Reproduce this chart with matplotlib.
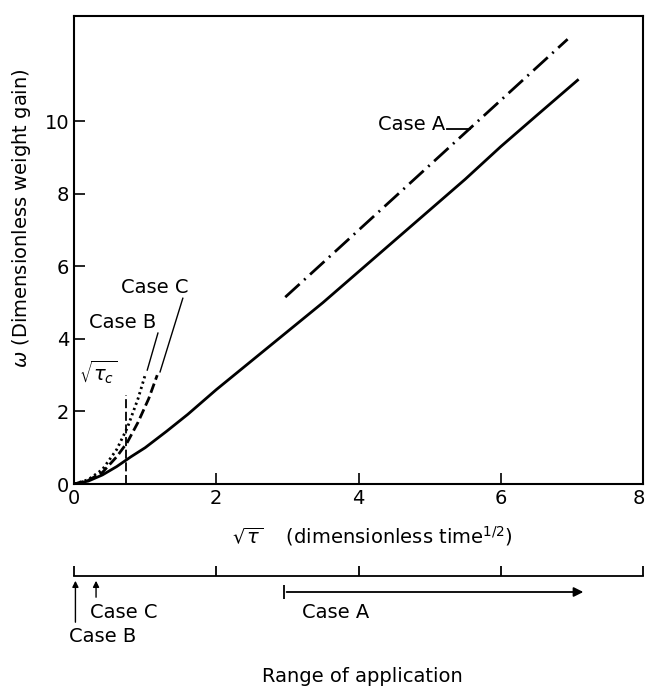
import matplotlib.pyplot as plt
import matplotlib.transforms as mtransforms

# exact solution (solid)
x_exact = [0, 0.2, 0.4, 0.6, 0.8, 1.0, 1.3, 1.6, 2.0, 2.5, 3.0, 3.5, 4.0, 4.5, 5.0, 5.5, 6.0, 6.5, 7.08]
y_exact = [0, 0.08, 0.25, 0.48, 0.75, 1.0, 1.45, 1.92, 2.6, 3.4, 4.2, 5.0, 5.85, 6.7, 7.55, 8.4, 9.3, 10.15, 11.13]

# Case A approximation (dash-dot)
x_case_a = [2.97, 6.94]
y_case_a = [5.15, 12.26]

# Case B (dotted) and Case C (dashed) short-time approximations
x_case_b = [0, 0.2, 0.4, 0.6, 0.75, 0.9, 1.0]
y_case_b = [0, 0.12, 0.4, 0.95, 1.55, 2.35, 3.0]
x_case_c = [0, 0.2, 0.4, 0.6, 0.75, 0.9, 1.05, 1.17]
y_case_c = [0, 0.1, 0.32, 0.75, 1.15, 1.7, 2.35, 3.0]

sqrt_tau_c = 0.73
sqrt_tau_c_top = 2.45

# range of application (lower scale)
range_ticks = [0, 2, 4, 6, 8]
case_a_from, case_a_to = 2.95, 7.2
case_b_at = 0.02
case_c_at = 0.31

plt.rcParams['font.family'] = 'DejaVu Sans'
plt.rcParams['font.size'] = 14
plt.rcParams['mathtext.fontset'] = 'dejavusans'

fig = plt.figure(figsize=(6.47, 6.88), dpi=100)
ax = fig.add_axes([74/647, 1-484/688, 569/647, 468/688])

ax.plot(x_exact, y_exact, color='k', lw=2)
ax.plot(x_case_a, y_case_a, color='k', lw=2, linestyle=(0, (7, 2.2, 0.7, 2.2)))
ax.plot(x_case_b, y_case_b, color='k', lw=2, linestyle=(0, (0.8, 1.2)))
ax.plot(x_case_c, y_case_c, color='k', lw=2, linestyle=(0, (3.5, 1.5)))
ax.plot([sqrt_tau_c, sqrt_tau_c], [0, sqrt_tau_c_top], color='k', lw=1.3, linestyle=(0, (5, 2)))

ax.text(0.34, 3.09, r'$\sqrt{\tau_c}$', ha='center', va='center', fontsize=14)
ax.text(0.69, 4.46, 'Case B', ha='center', va='center')
ax.plot([1.18, 1.03], [4.16, 3.14], color='k', lw=1)
ax.text(1.14, 5.43, 'Case C', ha='center', va='center')
ax.plot([1.53, 1.21], [5.12, 3.09], color='k', lw=1)
ax.text(5.22, 9.9, 'Case A', ha='right', va='center')
ax.plot([5.25, 5.57], [9.78, 9.78], color='k', lw=1.3)

ax.set_xlim(0, 8)
ax.set_ylim(0, 12.9)
ax.set_xticks([0, 2, 4, 6, 8])
ax.set_yticks([0, 2, 4, 6, 8, 10])
ax.tick_params(direction='in', length=8, width=1.2, labelsize=14, top=False, right=False)
for s in ax.spines.values():
    s.set_linewidth(1.5)
# keep the last x label inside the picture
last = ax.get_xticklabels()[-1]
last.set_transform(last.get_transform() + mtransforms.ScaledTranslation(-4/100, 0, fig.dpi_scale_trans))

fig.text(372/647, 1-536/688, r'$\sqrt{\tau}$    (dimensionless time$^{1/2}$)',
         ha='center', va='center', fontsize=14)
fig.text(22/647, 1-218/688, r'$\omega$ (Dimensionless weight gain)',
         rotation=90, ha='center', va='center', fontsize=14)

# lower "range of application" scale, y measured in pixels down from its top
ax2 = fig.add_axes([74/647, 0, 569/647, 140/688])
ax2.set_xlim(0, 8)
ax2.set_ylim(140, 0)
ax2.axis('off')
ax2.plot([0, 8], [28, 28], color='k', lw=1.3, clip_on=False)
ax2.vlines(range_ticks, 18, 28, color='k', lw=1.3, clip_on=False)
ax2.vlines(case_a_from, 37, 51, color='k', lw=1.3)
ax2.annotate('', xy=(case_a_to, 44), xytext=(case_a_from, 44),
             arrowprops=dict(arrowstyle='-|>', color='k', lw=1.3, mutation_scale=14))
ax2.annotate('', xy=(case_b_at, 30), xytext=(case_b_at, 77),
             arrowprops=dict(arrowstyle='-|>', color='k', lw=1, mutation_scale=9))
ax2.annotate('', xy=(case_c_at, 30), xytext=(case_c_at, 52),
             arrowprops=dict(arrowstyle='-|>', color='k', lw=1, mutation_scale=9))
ax2.text(0.22, 64, 'Case C', ha='left', va='center')
ax2.text(-0.07, 88, 'Case B', ha='left', va='center', clip_on=False)
ax2.text(3.2, 64, 'Case A', ha='left', va='center')
ax2.text(4.05, 129, 'Range of application', ha='center', va='center')

fig.savefig('out.png', dpi=100)
